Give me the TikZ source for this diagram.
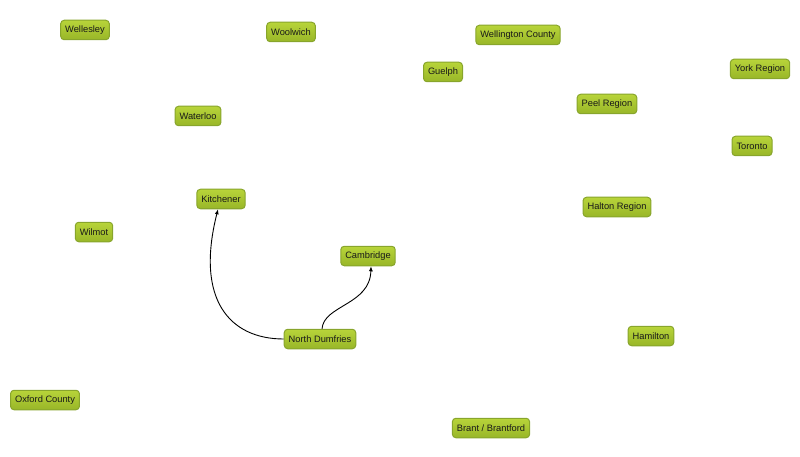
\documentclass[tikz,border=0pt]{standalone}
\usepackage{fontspec}
\setmainfont{Liberation Sans}
\usetikzlibrary{arrows.meta}
\definecolor{boxtop}{HTML}{B8D43A}
\definecolor{boxbot}{HTML}{98B628}
\definecolor{boxline}{HTML}{88A52C}
\begin{document}
\begin{tikzpicture}[x=1pt,y=-1pt]
	    \tikzset{>={Latex[length=5pt,width=4pt]}}
	    \tikzset{region/.style={draw=boxline,line width=1pt,rounded corners=3.5pt,top color=boxtop,bottom color=boxbot,
	        inner xsep=4.5pt,minimum height=19.5pt,font=\fontsize{9.3}{11}\selectfont,text=black!90}}
	    \useasboundingbox (0,0) rectangle (800,457);
	    \node [region] (wellesley) at (85,30) {Wellesley};
	    \node [region] (woolwich) at (291,32) {Woolwich};
	    \node [region] (wellington) at (518,35) {Wellington County};
	    \node [region] (guelph) at (443,72) {Guelph};
	    \node [region] (york) at (760,69) {York Region};
	    \node [region] (peel) at (607,104) {Peel Region};
	    \node [region] (waterloo) at (198,116) {Waterloo};
	    \node [region] (toronto) at (752,146) {Toronto};
	    \node [region] (kitchener) at (221,199) {Kitchener};
	    \node [region] (halton) at (617,207) {Halton Region};
	    \node [region] (wilmot) at (94,232) {Wilmot};
	    \node [region] (cambridge) at (368,256) {Cambridge};
	    \node [region] (dumfries) at (320,339) {North Dumfries};
	    \node [region] (hamilton) at (651,336) {Hamilton};
	    \node [region] (oxford) at (45,400) {Oxford County};
	    \node [region] (brant) at (491,428) {Brant / Brantford};
	    \draw [->,line width=0.9pt] (dumfries.west) .. controls (230,339) and (195,300) .. ([xshift=-3pt]kitchener.south);
	    \draw [->,line width=0.9pt] ([xshift=2pt]dumfries.north) .. controls (324,305) and (370,305) .. ([xshift=3pt]cambridge.south);
	\end{tikzpicture}
\end{document}
